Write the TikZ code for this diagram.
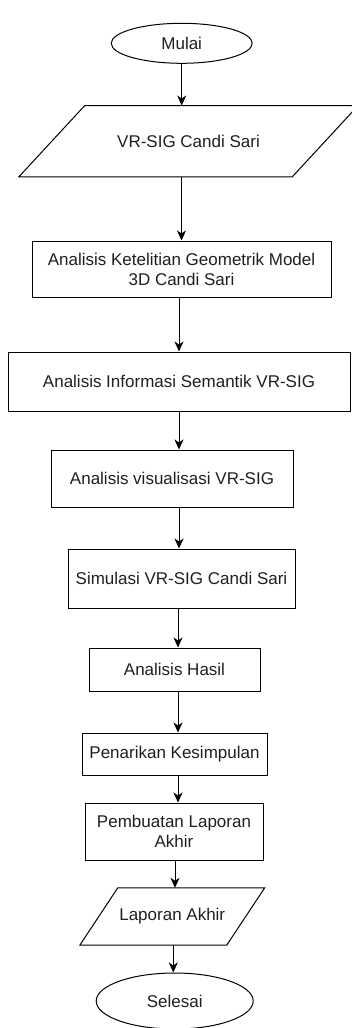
\documentclass[tikz,border=0pt]{standalone}
\usepackage{fontspec}
\setmainfont{Liberation Sans}
\usetikzlibrary{arrows.meta,shapes.geometric,calc}
\begin{document}
\begin{tikzpicture}[x=1pt,y=-1pt,
  font=\fontsize{17}{20}\selectfont,
  every node/.style={text=black!88},
  proc/.style={draw=black,line width=1pt,rectangle,inner sep=0pt,align=center},
  term/.style={draw=black,line width=1pt,ellipse,inner sep=0pt},
  io/.style={inner sep=0pt,align=center},
  ioline/.style={draw=black,line width=1pt},
  arr/.style={draw=black,line width=1pt,-{Stealth[length=10pt,width=9pt,inset=3pt]}}]
\useasboundingbox (0,0) rectangle (352,1028);

% terminals
\node[term,minimum width=141pt,minimum height=40pt] (start) at (181.7,43.3) {Mulai};
\node[term,minimum width=157pt,minimum height=56pt] (stop) at (174.7,1001) {Selesai};

% input / output
\node[io,minimum width=273pt,minimum height=71pt] (p1) at (188.5,141.2) {VR-SIG Candi Sari};
\draw[ioline] ([xshift=33pt]p1.north west) -- ([xshift=33pt]p1.north east)
  -- ([xshift=-33pt]p1.south east) -- ([xshift=-33pt]p1.south west) -- cycle;

\node[io,minimum width=146.5pt,minimum height=57pt] (p2) at (172.25,916.5) {Laporan Akhir};
\draw[ioline] ([xshift=19pt]p2.north west) -- ([xshift=19pt]p2.north east)
  -- ([xshift=-19pt]p2.south east) -- ([xshift=-19pt]p2.south west) -- cycle;

% processes
\node[proc,minimum width=299pt,minimum height=56pt] (b2) at (181.5,269) {Analisis Ketelitian Geometrik Model\\3D Candi Sari};
\node[proc,minimum width=342pt,minimum height=59pt] (b3) at (179,381.5) {Analisis Informasi Semantik VR-SIG};
\node[proc,minimum width=242pt,minimum height=57pt] (b4) at (172,478.5) {Analisis visualisasi VR-SIG};
\node[proc,minimum width=227pt,minimum height=59pt] (b5) at (181.5,578.5) {Simulasi VR-SIG Candi Sari};
\node[proc,minimum width=171pt,minimum height=43pt] (b6) at (174.5,669.5) {Analisis Hasil};
\node[proc,minimum width=185pt,minimum height=42pt] (b7) at (174.5,754) {Penarikan Kesimpulan};
\node[proc,minimum width=178pt,minimum height=57pt] (b8) at (174,831.5) {Pembuatan Laporan\\Akhir};

% connectors
\draw[arr] (start.south) -- (start.south |- p1.north);
\draw[arr] (p1.south -| b2.north) -- (b2.north);
\draw[arr] (b2.south -| b3.north) -- (b3.north);
\draw[arr] (b3.south) -- (b3.south |- b4.north);
\draw[arr] ([xshift=7pt]b4.south) -- ([xshift=7pt]b4.south |- b5.north);
\draw[arr] ([xshift=-3.5pt]b5.south) -- ([xshift=-3.5pt]b5.south |- b6.north);
\draw[arr] ([xshift=3.5pt]b6.south) -- ([xshift=3.5pt]b6.south |- b7.north);
\draw[arr] ([xshift=3.5pt]b7.south) -- ([xshift=3.5pt]b7.south |- b8.north);
\draw[arr] ([xshift=1pt]b8.south) -- ([xshift=1pt]b8.south |- p2.north);
\draw[arr] ([xshift=1pt]p2.south) -- ([xshift=1pt]p2.south |- stop.north);
\end{tikzpicture}
\end{document}
